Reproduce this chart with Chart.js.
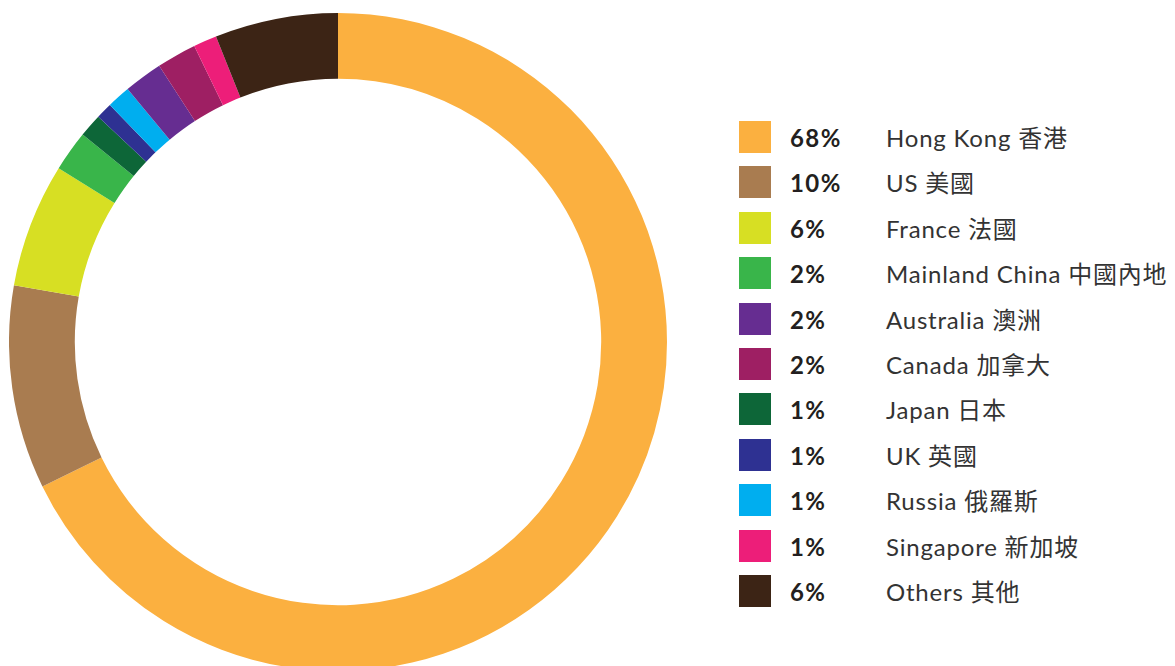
<!DOCTYPE html>
<html>
<head>
<meta charset="utf-8">
<script src="https://cdn.jsdelivr.net/npm/chart.js@4"></script>
<style>
  html, body { margin: 0; padding: 0; width: 1175px; height: 666px; overflow: hidden; background: #fff; }
  #wrap { position: absolute; left: 9px; top: 13px; width: 658px; height: 658px; }
  #legend { position: absolute; left: 739px; top: 115px; margin: 0; padding: 0; list-style: none; }
  #legend li { position: relative; height: 45.4px; }
  #legend .sw { position: absolute; left: 0; top: 6px; width: 32px; height: 32px; }
  #legend .pct { position: absolute; left: 51px; top: 8px; font-family: Lato, "Noto Sans CJK TC", sans-serif; font-weight: 700; font-size: 24px; line-height: 30px; color: #231f20; letter-spacing: 1.4px; }
  #legend .lab { position: absolute; left: 147px; top: 8px; white-space: nowrap; font-family: Lato, "Noto Sans CJK TC", sans-serif; font-weight: 400; font-size: 24px; line-height: 30px; color: #333; letter-spacing: 0.8px; }
</style>
</head>
<body>
<div id="wrap"><canvas id="c" width="658" height="658"></canvas></div>
<ul id="legend"></ul>
<script>
// Segments in drawing order (clockwise from top)
const categories = ["Hong Kong 香港", "US 美國", "France 法國", "Mainland China 中國內地", "Japan 日本", "UK 英國", "Russia 俄羅斯", "Australia 澳洲", "Canada 加拿大", "Singapore 新加坡", "Others 其他"];
const shares = [67.8, 10.0, 6.1, 2.0, 1.15, 0.8, 1.15, 1.9, 1.95, 1.15, 6.05];
const pctLabels = ["68%", "10%", "6%", "2%", "1%", "1%", "1%", "2%", "2%", "1%", "6%"];
const colors = ["#fbb040", "#a97c50", "#d7df23", "#39b54a", "#0d6638", "#2e3192", "#00aeef", "#662d91", "#9e1f63", "#ed1e79", "#3c2415"];
// Legend order (indexes into categories)
const legendOrder = [0, 1, 2, 3, 7, 8, 4, 5, 6, 9, 10];

new Chart(document.getElementById('c'), {
  type: 'doughnut',
  data: {
    labels: categories,
    datasets: [{ data: shares, backgroundColor: colors, borderWidth: 0, hoverOffset: 0 }]
  },
  options: {
    responsive: false,
    animation: false,
    cutout: '80%',
    rotation: 0,
    layout: { padding: 0 },
    plugins: { legend: { display: false }, tooltip: { enabled: false } }
  }
});

const ul = document.getElementById('legend');
legendOrder.forEach(i => {
  const li = document.createElement('li');
  li.innerHTML = '<span class="sw" style="background:' + colors[i] + '"></span>' +
    '<span class="pct">' + pctLabels[i] + '</span>' +
    '<span class="lab">' + categories[i] + '</span>';
  ul.appendChild(li);
});
</script>
</body>
</html>
